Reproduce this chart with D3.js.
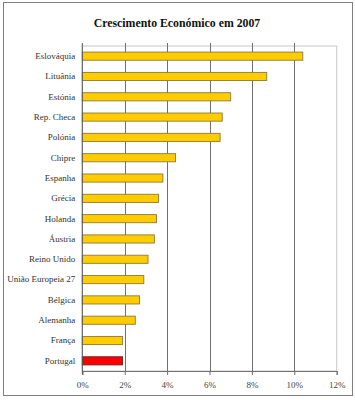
<!DOCTYPE html>
<html><head><meta charset="utf-8">
<script src="https://cdn.jsdelivr.net/npm/d3@7"></script>
<style>body{margin:0;background:#fff}svg{display:block}svg text{font-family:"Liberation Serif","DejaVu Serif",serif}</style>
</head><body>
<script>
const categories = ["Eslováquia","Lituânia","Estónia","Rep. Checa","Polónia","Chipre","Espanha","Grécia","Holanda","Áustria","Reino Unido","União Europeia 27","Bélgica","Alemanha","França","Portugal"];
const values = [10.4, 8.7, 7.0, 6.6, 6.5, 4.4, 3.8, 3.6, 3.5, 3.4, 3.1, 2.9, 2.7, 2.5, 1.9, 1.9];
const tickValues = [0, 2, 4, 6, 8, 10, 12];
const title = "Crescimento Económico em 2007";

const W = 355, H = 400;
const m = {left: 82.3, right: 355 - 336.7, top: 46, bottom: 400 - 371};
const svg = d3.select("body").append("svg").attr("width", W).attr("height", H);

svg.append("rect").attr("x", 3.5).attr("y", 2.5).attr("width", 349).attr("height", 393)
  .attr("fill", "#fff").attr("stroke", "#7f7f7f").attr("stroke-width", 1);

svg.append("text").attr("x", 177).attr("y", 27).attr("text-anchor", "middle")
  .attr("font-weight", "bold").attr("font-size", 11.8).attr("fill", "#111")
  .text(title);

const x = d3.scaleLinear().domain([0, 12]).range([m.left, W - m.right]);
const y = d3.scaleBand().domain(categories).range([m.top, H - m.bottom]).paddingInner(0.6).paddingOuter(0.3);

svg.append("rect").attr("x", x(0)).attr("y", m.top).attr("width", x(12) - x(0)).attr("height", H - m.bottom - m.top)
  .attr("fill", "none").attr("stroke", "#c8c8c8");

svg.append("g").selectAll("line").data(tickValues.filter(d => d > 0 && d < 12)).join("line")
  .attr("x1", d => Math.round(x(d)) + 0.5).attr("x2", d => Math.round(x(d)) + 0.5)
  .attr("y1", m.top - 3).attr("y2", H - m.bottom)
  .attr("stroke", "#707070");

svg.append("g").selectAll("rect").data(categories).join("rect")
  .attr("x", x(0)).attr("y", d => y(d))
  .attr("width", (d, i) => x(values[i]) - x(0)).attr("height", y.bandwidth())
  .attr("fill", d => d === "Portugal" ? "#ff0000" : "#ffcc00")
  .attr("stroke", d => d === "Portugal" ? "#6a2020" : "#8c7a3a").attr("stroke-width", 0.9);

const xAxis = svg.append("g").attr("transform", `translate(0,${H - m.bottom})`)
  .call(d3.axisBottom(x).tickValues(tickValues).tickFormat(d => d + "%").tickSize(4).tickPadding(7));
xAxis.attr("font-family", null);
xAxis.select(".domain").attr("stroke", "#707070");
xAxis.selectAll(".tick line").attr("stroke", "#707070");
xAxis.selectAll("text").attr("font-size", 9).attr("fill", "#444");

svg.append("line").attr("x1", x(0)).attr("x2", x(0)).attr("y1", m.top - 3).attr("y2", H - m.bottom + 3).attr("stroke", "#555");

const yAxis = svg.append("g").attr("transform", `translate(${x(0)},0)`)
  .call(d3.axisLeft(y).tickSize(0).tickPadding(7));
yAxis.attr("font-family", null);
yAxis.select(".domain").remove();
yAxis.selectAll("text").attr("font-size", 9).attr("fill", "#333");
</script>
</body></html>
